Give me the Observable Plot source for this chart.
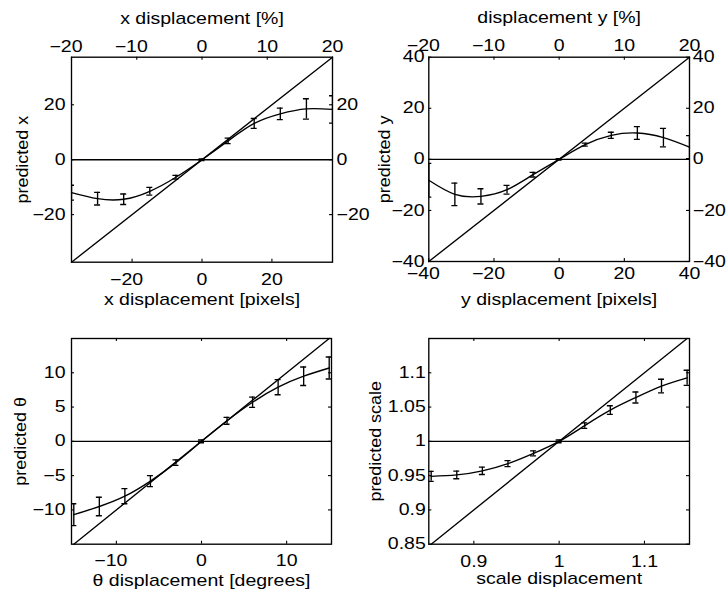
<!DOCTYPE html>
<html><head><meta charset="utf-8">
<script src="https://cdn.jsdelivr.net/npm/d3@7"></script>
<script src="https://cdn.jsdelivr.net/npm/@observablehq/plot@0.6"></script>
<style>
body{margin:0;background:#fff;}
#fig{position:relative;width:728px;height:596px;background:#fff;}
#fig > div{position:absolute;}
</style></head><body><div id="fig"></div>
<script>
// ---- Panel 1: x displacement ----
const xDisp = [-37.33, -29.87, -22.4, -14.93, -7.47, 0, 7.47, 14.93, 22.4, 29.87, 37.33];
const xPred = [-12.0, -14.2, -14.4, -11.5, -6.4, 0, 6.85, 13.2, 16.7, 18.5, 18.3];
const xErr  = [2.7, 2.3, 1.9, 1.4, 0.7, 0.3, 1.0, 1.8, 2.1, 3.7, 5.0];
const xLim  = [-37.33, 37.33];
const xTicksX = [-20, 0, 20];
const xTicksY = [-20, 0, 20];

// ---- Panel 2: y displacement ----
const yDisp = [-40, -32, -24, -16, -8, 0, 8, 16, 24, 32, 40];
const yPred = [-8.2, -13.7, -14.5, -11.9, -6.0, 0, 5.75, 9.4, 10.3, 8.5, 4.8];
const yErr  = [6.6, 4.4, 3.0, 1.7, 0.9, 0.3, 0.6, 1.2, 2.5, 3.6, 4.5];
const yLim  = [-40, 40];
const yTicksX = [-40, -20, 0, 20, 40];
const yTicksY = [-40, -20, 0, 20, 40];

// percent ticks on top axes
const pctTicks = [-20, -10, 0, 10, 20];
const pctMax = 20;

// ---- Panel 3: theta displacement ----
const tDisp = [-15, -12, -9, -6, -3, 0, 3, 6, 9, 12, 15];
const tPred = [-10.7, -9.5, -8.0, -5.8, -3.1, 0, 3.0, 5.7, 7.9, 9.5, 10.7];
const tErr  = [1.6, 1.35, 1.1, 0.8, 0.4, 0.2, 0.5, 0.75, 1.1, 1.35, 1.6];
const tLimX = [-15.27, 15.27];
const tLimY = [-15, 15];
const tTicksX = [-10, 0, 10];
const tTicksY = [-10, -5, 0, 5, 10];

// ---- Panel 4: scale displacement ----
const sDisp = [0.85, 0.88, 0.91, 0.94, 0.97, 1.0, 1.03, 1.06, 1.09, 1.12, 1.15];
const sPred = [0.949, 0.951, 0.957, 0.9675, 0.9825, 1.0, 1.023, 1.0456, 1.064, 1.0806, 1.0927];
const sErr  = [0.0073, 0.0056, 0.0053, 0.0044, 0.0036, 0.002, 0.004, 0.0063, 0.008, 0.01, 0.011];
const sLimX = [0.8472, 1.1528];
const sLimY = [0.85, 1.15];
const sTicksX = [0.9, 1, 1.1];
const sTicksY = [0.85, 0.9, 0.95, 1, 1.05, 1.1];

const W = 364, H = 298;
const FONT = "'Liberation Sans', Arial, Helvetica, sans-serif";
const fmt = d => (d < 0 ? "\u2212" : "") + String(Math.abs(d));

function stretch(svg) {
  svg.querySelectorAll("text").forEach(t => {
    const tr = t.getAttribute("transform") || "";
    const s = /rotate/.test(tr) ? 1.12 : 1.22;
    if (tr) t.setAttribute("transform", tr + ` scale(${s},1)`);
    else {
      const x = parseFloat(t.getAttribute("x")) || 0;
      t.setAttribute("x", 0);
      t.setAttribute("transform", `translate(${x},0) scale(${s},1)`);
    }
  });
}

function makePanel(o) {
  const fw = W - o.ml - o.mr, fh = H - o.mt - o.mb;
  const pts = o.xs.map((x, i) => ({x, y: o.ys[i], lo: o.ys[i] - o.es[i], hi: o.ys[i] + o.es[i]}));
  const neg = a => a.filter(d => d < 0), pos = a => a.filter(d => d >= 0);
  const tk = {stroke: "black", strokeOpacity: 1, strokeWidth: 1.1};
  const ln = {stroke: "black", strokeWidth: 1.35};
  const marks = [
    Plot.ruleY([o.base], {stroke: "black", strokeWidth: 1.35}),
    Plot.line(o.diag.map(d => ({x: d, y: d})), {x: "x", y: "y", ...ln}),
    Plot.line(pts, {x: "x", y: "y", curve: "natural", ...ln}),
    Plot.ruleX(pts, {x: "x", y1: "lo", y2: "hi", ...ln, clip: true}),
    Plot.ruleY(pts, {y: "lo", x1: "x", x2: "x", insetLeft: -3, insetRight: -3, ...ln, clip: true}),
    Plot.ruleY(pts, {y: "hi", x1: "x", x2: "x", insetLeft: -3, insetRight: -3, ...ln, clip: true}),
    Plot.gridX(o.xTicks, {...tk, insetTop: fh - 3}),
    Plot.gridX(o.topTicks, {...tk, insetBottom: fh - 3}),
    Plot.gridY(o.yTicks, {...tk, insetRight: fw - 3}),
    Plot.gridY(o.yTicks, {...tk, insetLeft: fw - 3}),
    Plot.frame({stroke: "black", strokeWidth: 1.35}),
    Plot.axisX(neg(o.xTicks), {anchor: "bottom", tickSize: 0, tickPadding: o.bp, tickFormat: fmt, dx: -5.5, label: null}),
    Plot.axisX(pos(o.xTicks), {anchor: "bottom", tickSize: 0, tickPadding: o.bp, tickFormat: fmt, label: null}),
    Plot.axisY(o.yTicks, {anchor: "left", tickSize: 0, tickPadding: o.lp, tickFormat: fmt, label: null}),
    Plot.text([o.xTitle], {text: d => d, frameAnchor: "bottom", textAnchor: "middle", lineAnchor: "bottom", dy: o.xtDy}),
    Plot.text([o.yTitle], {text: d => d, frameAnchor: "left", textAnchor: "middle", lineAnchor: "middle", rotate: -90, dx: o.ytDx})
  ];
  if (o.topPct) {
    const k = o.xDomain[1] / pctMax;
    const tf = d => fmt(Math.round(d / k));
    marks.push(
      Plot.axisX(neg(o.topTicks), {anchor: "top", tickSize: 0, tickPadding: o.tp, tickFormat: tf, dx: -5.5, label: null}),
      Plot.axisX(pos(o.topTicks), {anchor: "top", tickSize: 0, tickPadding: o.tp, tickFormat: tf, label: null}),
      Plot.axisY(o.yTicks, {anchor: "right", tickSize: 0, tickPadding: o.rp, tickFormat: fmt, label: null}),
      Plot.text([o.topTitle], {text: d => d, frameAnchor: "top", textAnchor: "middle", lineAnchor: "bottom", dy: o.ttDy})
    );
  }
  const svg = Plot.plot({
    width: W, height: H,
    marginLeft: o.ml, marginRight: o.mr, marginTop: o.mt, marginBottom: o.mb,
    x: {domain: o.xDomain}, y: {domain: o.yDomain},
    style: {fontFamily: FONT, fontSize: "16px", color: "black", background: "transparent", overflow: "visible"},
    marks
  });
  stretch(svg);
  const div = document.createElement("div");
  div.style.left = o.left + "px";
  div.style.top = o.top + "px";
  div.appendChild(svg);
  document.getElementById("fig").appendChild(div);
}

const k1 = xLim[1] / pctMax, k2 = yLim[1] / pctMax;

makePanel({left: 0, top: 0, ml: 71, mr: 32, mt: 56.7, mb: 36.3,
  xs: xDisp, ys: xPred, es: xErr, xDomain: xLim, yDomain: xLim, diag: xLim, base: 0,
  xTicks: xTicksX, yTicks: xTicksY, topPct: true, topTicks: pctTicks.map(p => p * k1),
  bp: 11, lp: 6, rp: 4, tp: 5,
  xTitle: "x displacement [pixels]", xtDy: 42.3, topTitle: "x displacement [%]", ttDy: -33.4,
  yTitle: "predicted x", ytDx: -49});

makePanel({left: 364, top: 0, ml: 64.3, mr: 39, mt: 56.7, mb: 37,
  xs: yDisp, ys: yPred, es: yErr, xDomain: yLim, yDomain: yLim, diag: yLim, base: 0,
  xTicks: yTicksX, yTicks: yTicksY, topPct: true, topTicks: pctTicks.map(p => p * k2),
  bp: 6.5, lp: 4.3, rp: 3.3, tp: 6.5,
  xTitle: "y displacement [pixels]", xtDy: 43, topTitle: "displacement y [%]", ttDy: -34,
  yTitle: "predicted y", ytDx: -43.6});

makePanel({left: 0, top: 298, ml: 71, mr: 33, mt: 40, mb: 52.3,
  xs: tDisp, ys: tPred, es: tErr, xDomain: tLimX, yDomain: tLimY, diag: tLimY, base: 0,
  xTicks: tTicksX, yTicks: tTicksY, topPct: false, topTicks: tTicksX,
  bp: 10, lp: 6,
  xTitle: "\u03b8 displacement [degrees]", xtDy: 41.3,
  yTitle: "predicted \u03b8", ytDx: -50.3});

makePanel({left: 364, top: 298, ml: 64.3, mr: 39, mt: 40, mb: 52.3,
  xs: sDisp, ys: sPred, es: sErr, xDomain: sLimX, yDomain: sLimY, diag: sLimY, base: 1,
  xTicks: sTicksX, yTicks: sTicksY, topPct: false, topTicks: sTicksX,
  bp: 11, lp: 3,
  xTitle: "scale displacement", xtDy: 40,
  yTitle: "predicted scale", ytDx: -52.8});
</script>
</body></html>
